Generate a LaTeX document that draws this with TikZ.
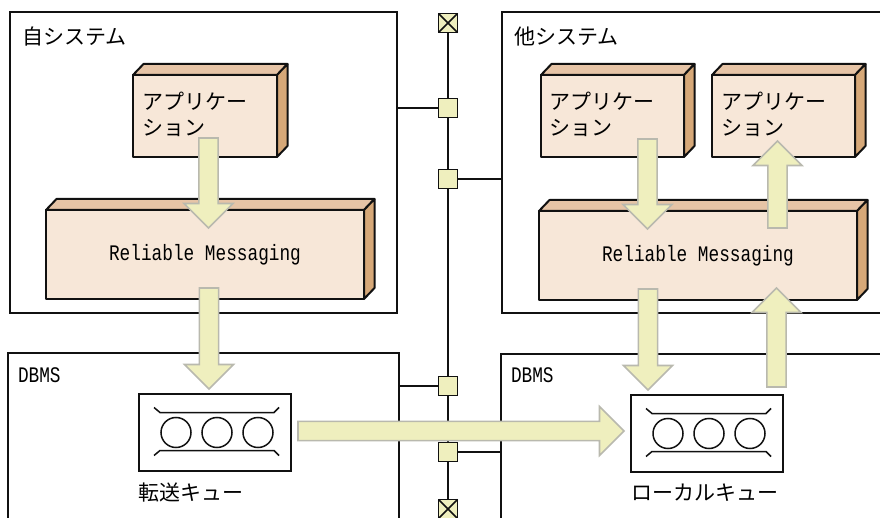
\documentclass[tikz,border=0pt]{standalone}
\usepackage{fontspec}
\setmainfont{Liberation Mono}
\newfontfamily\jp{Noto Sans CJK JP}
\newfontfamily\narrowmono[FakeStretch=0.80]{Liberation Mono}
\usetikzlibrary{calc}
\definecolor{frontc}{HTML}{F7E7D8}
\definecolor{topc}{HTML}{E6C4A6}
\definecolor{sidec}{HTML}{D6A878}
\definecolor{arrowc}{HTML}{EFEFBE}
\definecolor{arrowb}{HTML}{B9B9AE}
\definecolor{inkc}{HTML}{111111}
\tikzset{
  x=1pt,y=-1pt,
  every node/.style={outer sep=0pt},
  outerbox/.style={draw=inkc,line width=1.7pt,fill=white,inner sep=0pt},
  front/.style={draw=inkc,line width=2pt,fill=frontc,inner sep=0pt,line join=round},
  topface/.style={draw=inkc,line width=2pt,fill=topc,line join=round},
  sideface/.style={draw=inkc,line width=2pt,fill=sidec,line join=round},
  busline/.style={draw=inkc,line width=1.7pt},
  tap/.style={draw=inkc,line width=1.7pt,fill=arrowc,minimum width=19pt,minimum height=19pt,inner sep=0pt},
  queuebox/.style={draw=inkc,line width=1.7pt,fill=white,minimum width=152pt,minimum height=77pt,inner sep=0pt},
  ball/.style={draw=inkc,line width=1.5pt,circle,minimum size=30pt,inner sep=0pt},
  rail/.style={draw=inkc,line width=1.5pt},
  bigarrow/.style={draw=arrowb,line width=1.6pt,fill=arrowc,line join=miter},
  jplabel/.style={inner sep=0pt,font=\jp\fontsize{21}{26}\selectfont,align=left},
  lat/.style={inner sep=0pt,font=\narrowmono\fontsize{22.2}{24}\selectfont}
}
\newcommand\solidbox[5]{%
  \node[front,minimum width=#4,minimum height=#5] (#1) at (#2,#3) {};
  \draw[topface] (#1.north west) -- ++(10.5,-11) -- ($(#1.north east)+(10.5,-11)$) -- (#1.north east) -- cycle;
  \draw[sideface] (#1.north east) -- ++(10.5,-11) -- ($(#1.south east)+(10.5,-11)$) -- (#1.south east) -- cycle;
}
\newcommand\queue[3]{%
  \node[queuebox] (#1) at (#2,#3) {};
  \node[ball] (#1b1) at ($(#1)+(-39,0)$) {};
  \node[ball] (#1b2) at ($(#1)+(2,0)$) {};
  \node[ball] (#1b3) at ($(#1)+(43,0)$) {};
  \draw[rail] ($(#1)+(-61,-25)$) -- ++(6,5) -- ++(114,0) -- ++(5,-5);
  \draw[rail] ($(#1)+(-61,23)$) -- ++(6,-5) -- ++(114,0) -- ++(5,5);
}
\newcommand\blockarrow[2]{%
  \coordinate (sh) at ($(#2)!24.5pt!(#1)$);
  \draw[bigarrow]
    ($(#1)!9.6pt!90:(#2)$) -- ($(sh)!9.6pt!90:(#2)$) -- ($(sh)!24.4pt!90:(#2)$) -- (#2)
    -- ($(sh)!24.4pt!-90:(#2)$) -- ($(sh)!9.6pt!-90:(#2)$) -- ($(#1)!9.6pt!-90:(#2)$) -- cycle;
}
\begin{document}
\begin{tikzpicture}
\clip (0,0) rectangle (880,518);
\fill[white] (0,0) rectangle (880,518);
% outer boxes
\node[outerbox,minimum width=387pt,minimum height=301pt] (selfsys) at (203.5,162.5) {};
\node[outerbox,minimum width=420pt,minimum height=301pt] (othersys) at (712,162.5) {};
\node[outerbox,minimum width=391pt,minimum height=200pt] (dbmsl) at (203.5,453) {};
\node[outerbox,minimum width=420pt,minimum height=200pt] (dbmsr) at (711,454) {};
\node[jplabel,anchor=west] (selflabel) at (22,37) {自システム};
\node[jplabel,anchor=west] (otherlabel) at (514,37) {他システム};
\node[lat,anchor=west] (dbmsllabel) at (18,375) {DBMS};
\node[lat,anchor=west] (dbmsrlabel) at (511,375) {DBMS};
% bus
\node[tap] (termt) at (448,23) {};
\node[tap] (termb) at (448,509) {};
\draw[busline] (termt) -- (termb);
\node[tap] (tap1) at (448,108) {};
\node[tap] (tap2) at (448,179) {};
\node[tap] (tap3) at (448,386) {};
\node[tap] (tap4) at (448,452) {};
\draw[line width=1.5pt,draw=inkc] (termt.north west) -- (termt.south east) (termt.north east) -- (termt.south west);
\draw[line width=1.5pt,draw=inkc] (termb.north west) -- (termb.south east) (termb.north east) -- (termb.south west);
\draw[busline] (tap1.west) -- (tap1.west -| selfsys.east);
\draw[busline] (tap2.east) -- (tap2.east -| othersys.west);
\draw[busline] (tap3.west) -- (tap3.west -| dbmsl.east);
\draw[busline] (tap4.east) -- (tap4.east -| dbmsr.west);
% solids
\solidbox{appa}{205}{116}{144pt}{82pt}
\solidbox{rma}{205}{254.5}{318pt}{89pt}
\solidbox{appb}{612.5}{116}{143pt}{82pt}
\solidbox{appc}{783.5}{116}{143pt}{82pt}
\solidbox{rmb}{698}{255.5}{318pt}{89pt}
\node[jplabel,anchor=north west] (appatext) at (142,92) {アプリケー\\ション};
\node[jplabel,anchor=north west] (appbtext) at (549.5,92) {アプリケー\\ション};
\node[jplabel,anchor=north west] (appctext) at (721,92) {アプリケー\\ション};
\node[lat] (rmatext) at (205,254.5) {Reliable Messaging};
\node[lat] (rmbtext) at (698,255.5) {Reliable Messaging};
% queues
\queue{ql}{215}{432.5}
\queue{qr}{707}{433.5}
\node[jplabel,anchor=west] (qltext) at (138,493) {転送キュー};
\node[jplabel,anchor=west] (qrtext) at (631,493) {ローカルキュー};
% arrows
\coordinate (a1s) at (208.5,138); \coordinate (a1e) at (208.5,228);
\coordinate (a2s) at (209,288);   \coordinate (a2e) at (209,389);
\coordinate (a3s) at (647.5,139); \coordinate (a3e) at (647.5,229);
\coordinate (a4s) at (777.5,228); \coordinate (a4e) at (777.5,141);
\coordinate (a5s) at (648,289);   \coordinate (a5e) at (648,390);
\coordinate (a6s) at (776.5,387); \coordinate (a6e) at (776.5,288);
\coordinate (a7s) at (298,431);   \coordinate (a7e) at (624,431);
\blockarrow{a1s}{a1e}
\blockarrow{a2s}{a2e}
\blockarrow{a3s}{a3e}
\blockarrow{a4s}{a4e}
\blockarrow{a5s}{a5e}
\blockarrow{a6s}{a6e}
\blockarrow{a7s}{a7e}
\end{tikzpicture}
\end{document}
